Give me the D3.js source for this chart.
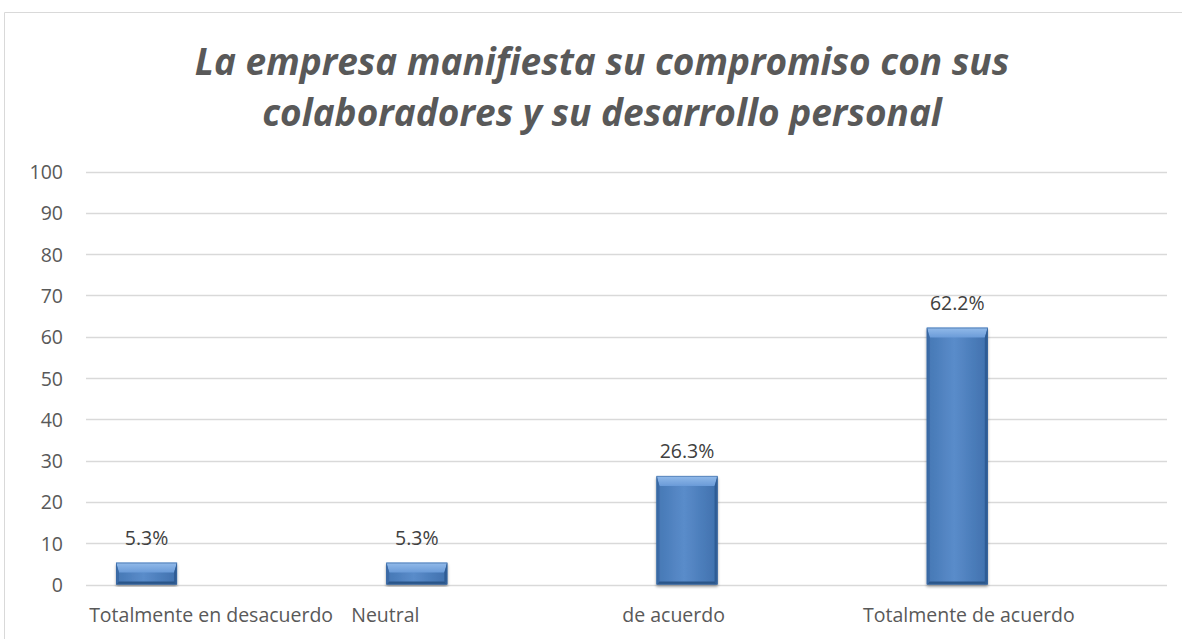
<!DOCTYPE html>
<html>
<head>
<meta charset="utf-8">
<script src="https://cdn.jsdelivr.net/npm/d3@7/dist/d3.min.js"></script>
<style>
  html, body { margin: 0; padding: 0; background: #ffffff; }
  svg { display: block; }
  text { font-family: "Open Sans", Lato, sans-serif; }
</style>
</head>
<body>
<svg id="chart" width="1182" height="639"></svg>
<script>
// Survey answers and the share of respondents for each one
const categories = ["Totalmente en desacuerdo", "Neutral", "de acuerdo", "Totalmente de acuerdo"];
const values = [5.3, 5.3, 26.3, 62.2];
const valueLabels = ["5.3%", "5.3%", "26.3%", "62.2%"];
const yTicks = [0, 10, 20, 30, 40, 50, 60, 70, 80, 90, 100];
const titleLines = ["La empresa manifiesta su compromiso con sus", "colaboradores y su desarrollo personal"];

// Layout
const W = 1182, H = 639;
const plot = { left: 86, right: 1167, top: 171.5, bottom: 584.5 };
const labelShift = [-10, -106, -88, -63]; // category label offsets from band centre
const fs = 19.5;

const svg = d3.select("#chart");

// Outer chart frame (only top and left edges fall inside the view)
svg.append("path")
  .attr("d", `M4.5,${H} V12.5 H${W}`)
  .attr("fill", "none").attr("stroke", "#d9d9d9").attr("stroke-width", 1);

const x = d3.scaleBand().domain(categories).range([plot.left, plot.right]).paddingInner(0).paddingOuter(0);
const y = d3.scaleLinear().domain([0, 100]).range([plot.bottom, plot.top]);

// Gradients for the bevelled bars
const defs = svg.append("defs");
const face = defs.append("linearGradient").attr("id", "face").attr("x1", 0).attr("x2", 1).attr("y1", 0).attr("y2", 0);
face.append("stop").attr("offset", "0%").attr("stop-color", "#4577b4");
face.append("stop").attr("offset", "45%").attr("stop-color", "#5a8cca");
face.append("stop").attr("offset", "100%").attr("stop-color", "#3f70ad");
const topG = defs.append("linearGradient").attr("id", "topbev").attr("x1", 0).attr("x2", 0).attr("y1", 0).attr("y2", 1);
topG.append("stop").attr("offset", "0%").attr("stop-color", "#93bbea");
topG.append("stop").attr("offset", "100%").attr("stop-color", "#6a9bd8");
const shadow = defs.append("filter").attr("id", "shadow").attr("x", "-20%").attr("y", "-5%").attr("width", "140%").attr("height", "115%");
shadow.append("feGaussianBlur").attr("in", "SourceAlpha").attr("stdDeviation", 1.6).attr("result", "b");
shadow.append("feOffset").attr("in", "b").attr("dx", 0).attr("dy", 1.5).attr("result", "o");
shadow.append("feComponentTransfer").attr("in", "o").attr("result", "s")
  .append("feFuncA").attr("type", "linear").attr("slope", 0.35);
const merge = shadow.append("feMerge");
merge.append("feMergeNode").attr("in", "s");
merge.append("feMergeNode").attr("in", "SourceGraphic");

// Gridlines
const grid = svg.append("g");
grid.selectAll("line").data(yTicks).join("line")
  .attr("x1", plot.left).attr("x2", plot.right)
  .attr("y1", d => Math.round(y(d)) + 0.5).attr("y2", d => Math.round(y(d)) + 0.5)
  .attr("stroke", "#d9d9d9").attr("stroke-width", 1.3);

// Y axis labels
const yAxis = d3.axisLeft(y).tickValues(yTicks).tickSize(0).tickPadding(0);
const gy = svg.append("g").attr("transform", `translate(63,0)`).call(yAxis);
gy.select(".domain").remove();
gy.selectAll("text")
  .attr("fill", "#595959").attr("font-size", fs).attr("dy", "0.36em")
  .style("font-family", "'Open Sans', Lato, sans-serif");

// Bars
const bw = x.bandwidth();
const barOff = bw * 0.111, barW = bw * 0.226;
const bev = 10, side = 3;
const bars = svg.append("g").selectAll("g").data(values).join("g")
  .attr("filter", "url(#shadow)");
bars.each(function (v, i) {
  const g = d3.select(this);
  const x0 = x(categories[i]) + barOff, x1 = x0 + barW;
  const y0 = y(v), y1 = y(0);
  const h = y1 - y0;
  const tb = Math.min(bev, h * 0.45);
  const bb = Math.min(3, h * 0.2);
  g.append("rect").attr("x", x0).attr("y", y0).attr("width", barW).attr("height", h).attr("fill", "url(#face)");
  // top bevel
  g.append("path").attr("d", `M${x0},${y0} H${x1} L${x1 - side},${y0 + tb} H${x0 + side} Z`).attr("fill", "url(#topbev)");
  // side bevels
  g.append("path").attr("d", `M${x0},${y0} L${x0 + side},${y0 + tb} V${y1 - bb} L${x0},${y1} Z`).attr("fill", "#3a6aa6");
  g.append("path").attr("d", `M${x1},${y0} L${x1 - side},${y0 + tb} V${y1 - bb} L${x1},${y1} Z`).attr("fill", "#2f5c94");
  // bottom bevel
  g.append("path").attr("d", `M${x0},${y1} L${x0 + side},${y1 - bb} H${x1 - side} L${x1},${y1} Z`).attr("fill", "#2c5689");
  g.append("rect").attr("x", x0 + 0.5).attr("y", y0 + 0.5).attr("width", barW - 1).attr("height", h - 1)
    .attr("fill", "none").attr("stroke", "#3b6aa3").attr("stroke-width", 0.8).attr("opacity", 0.7);
});

// Value labels
svg.append("g").selectAll("text").data(values).join("text")
  .attr("x", (v, i) => x(categories[i]) + barOff + barW / 2)
  .attr("y", v => y(v) - 18)
  .attr("text-anchor", "middle")
  .attr("fill", "#404040").attr("font-size", fs)
  .text((v, i) => valueLabels[i]);

// Category labels
svg.append("g").selectAll("text").data(categories).join("text")
  .attr("x", (c, i) => x(c) + bw / 2 + labelShift[i])
  .attr("y", 622)
  .attr("text-anchor", "middle")
  .attr("fill", "#595959").attr("font-size", fs)
  .text(c => c);

// Title
svg.append("g").selectAll("text").data(titleLines).join("text")
  .attr("x", 602)
  .attr("y", (d, i) => 75 + i * 51)
  .attr("text-anchor", "middle")
  .attr("fill", "#595959")
  .attr("font-size", 37)
  .attr("font-style", "italic")
  .attr("font-weight", 700)
  .text(d => d);
</script>
</body>
</html>
